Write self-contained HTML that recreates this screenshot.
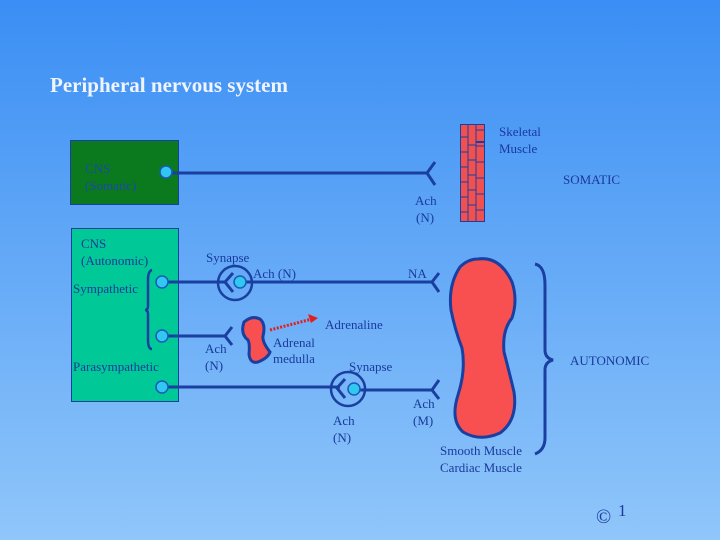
<!DOCTYPE html>
<html><head><meta charset="utf-8"><style>
html,body{margin:0;padding:0;}
body{width:720px;height:540px;overflow:hidden;}
svg{display:block;}
text{font-family:"Liberation Serif",serif;fill:#1a3a9c;font-size:13px;}
</style></head><body>
<svg width="720" height="540" viewBox="0 0 720 540">
<defs>
<linearGradient id="bg" x1="0" y1="0" x2="0" y2="1">
<stop offset="0" stop-color="#3a8ef4"/>
<stop offset="1" stop-color="#90c6fa"/>
</linearGradient>
</defs>
<rect width="720" height="540" fill="url(#bg)"/>
<text x="50" y="92" style="font-size:21px;fill:#f0f4ff;font-weight:bold">Peripheral nervous system</text>

<!-- boxes -->
<rect x="70.5" y="140.5" width="108" height="64" fill="#0b7a1e" stroke="#1a3fa0"/>
<text x="85" y="173" style="fill:#1a4aa8">CNS</text>
<text x="85" y="190" style="fill:#1a4aa8">(Somatic)</text>
<rect x="71.5" y="228.5" width="107" height="173" fill="#00c896" stroke="#1a3fa0"/>
<text x="81" y="248">CNS</text>
<text x="81" y="265">(Autonomic)</text>
<text x="73" y="293">Sympathetic</text>
<text x="73" y="371">Parasympathetic</text>
<path d="M152,270 Q148,271 148,280 L148,306 Q148,310 145,310 Q148,310 148,314 L148,340 Q148,349 152,349" fill="none" stroke="#1a3fa0" stroke-width="2.5"/>

<g stroke="#1a3fa0" stroke-width="3" fill="none">
<!-- somatic -->
<line x1="170" y1="173" x2="427" y2="173"/>
<polyline points="435,162 427,173 435,185"/>
<!-- sympathetic -->
<line x1="166" y1="282" x2="226" y2="282"/>
<circle cx="235" cy="283" r="17" stroke-width="2.5"/>
<polyline points="233,273 225,282 233,292"/>
<line x1="244" y1="282" x2="433" y2="282"/>
<polyline points="439,273 432,282 439,292"/>
<!-- adrenal -->
<line x1="166" y1="336" x2="226" y2="336"/>
<polyline points="232,327 225,336 232,345"/>
<!-- para -->
<line x1="166" y1="387" x2="340" y2="387"/>
<circle cx="348" cy="389" r="17" stroke-width="2.5"/>
<polyline points="345,379 337,388 345,398"/>
<line x1="357" y1="390" x2="433" y2="390"/>
<polyline points="439,380 432,390 439,399"/>
</g>
<g fill="#30c8f0" stroke="#1a5ab8" stroke-width="1.5">
<circle cx="166" cy="172" r="6"/>
<circle cx="162" cy="282" r="6"/>
<circle cx="240" cy="282" r="6"/>
<circle cx="162" cy="336" r="6"/>
<circle cx="162" cy="387" r="6"/>
<circle cx="354" cy="389" r="6"/>
</g>

<!-- adrenal blob -->
<path d="M244,322 Q252,315 260,319 Q266,324 263,336 Q262,342 270,352 Q268,358 258,362 Q250,364 249,354 Q250,344 248,340 Q240,334 244,322 Z" fill="#f85050" stroke="#1a3fa0" stroke-width="3"/>
<line x1="270" y1="330" x2="312" y2="319" stroke="#e02020" stroke-width="3" stroke-dasharray="2,1.5"/>
<polygon points="318,318 308,314 311,323" fill="#e02020"/>

<!-- skeletal muscle -->
<rect x="460.5" y="124.5" width="24" height="97" fill="#f05050" stroke="#1a3fa0"/>
<g stroke="#1a3fa0" stroke-width="1">
<line x1="468" y1="124" x2="468" y2="221"/><line x1="476" y1="124" x2="476" y2="221"/>
<line x1="460" y1="137" x2="468" y2="137"/><line x1="460" y1="152" x2="468" y2="152"/><line x1="460" y1="167" x2="468" y2="167"/><line x1="460" y1="182" x2="468" y2="182"/><line x1="460" y1="197" x2="468" y2="197"/><line x1="460" y1="212" x2="468" y2="212"/>
<line x1="468" y1="145" x2="476" y2="145"/><line x1="468" y1="160" x2="476" y2="160"/><line x1="468" y1="175" x2="476" y2="175"/><line x1="468" y1="190" x2="476" y2="190"/><line x1="468" y1="205" x2="476" y2="205"/>
<line x1="476" y1="130" x2="484" y2="130"/><line x1="476" y1="146" x2="484" y2="146"/><line x1="476" y1="162" x2="484" y2="162"/><line x1="476" y1="178" x2="484" y2="178"/><line x1="476" y1="194" x2="484" y2="194"/><line x1="476" y1="210" x2="484" y2="210"/>
</g>
<line x1="476" y1="142" x2="484" y2="142" stroke="#1a3fa0" stroke-width="2"/>

<!-- smooth muscle -->
<path d="M478,259 Q500,256 512,282 Q518,300 512,318 Q502,330 504,352 Q510,375 514,392 Q518,420 500,433 Q480,442 463,432 Q450,420 458,395 Q466,370 462,348 Q455,330 451,310 Q448,285 460,267 Q468,259 478,259 Z" fill="#f85050" stroke="#1a3fa0" stroke-width="3"/>
<path d="M535,264 Q545,266 545,285 L545,350 Q545,358 553,360 Q545,362 545,370 L545,438 Q545,450 535,454" fill="none" stroke="#1a3fa0" stroke-width="3"/>

<!-- labels -->
<text x="499" y="136">Skeletal</text>
<text x="499" y="153">Muscle</text>
<text x="563" y="184">SOMATIC</text>
<text x="415" y="205">Ach</text>
<text x="416" y="222">(N)</text>
<text x="206" y="262">Synapse</text>
<text x="253" y="278">Ach (N)</text>
<text x="408" y="278">NA</text>
<text x="325" y="329">Adrenaline</text>
<text x="273" y="347">Adrenal</text>
<text x="273" y="363">medulla</text>
<text x="205" y="353">Ach</text>
<text x="205" y="370">(N)</text>
<text x="349" y="371">Synapse</text>
<text x="570" y="365">AUTONOMIC</text>
<text x="413" y="408">Ach</text>
<text x="413" y="425">(M)</text>
<text x="333" y="425">Ach</text>
<text x="333" y="442">(N)</text>
<text x="440" y="455">Smooth Muscle</text>
<text x="440" y="472">Cardiac Muscle</text>
<text x="596" y="523" style="font-size:20px">©</text>
<text x="618" y="516" style="font-size:17px">1</text>
</svg>
</body></html>
